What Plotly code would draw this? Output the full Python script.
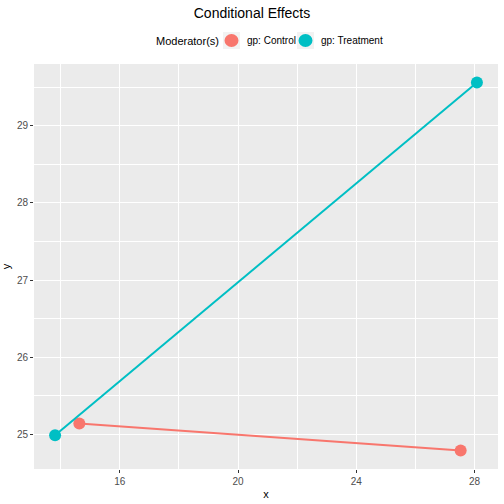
import plotly.graph_objects as go

groups = ["gp: Control", "gp: Treatment"]
colors = ["#F8766D", "#00BFC4"]
control_x = [14.63, 27.53]
control_y = [25.14, 24.79]
treat_x = [13.81, 28.08]
treat_y = [24.99, 29.56]
x_ticks = [16, 20, 24, 28]
y_ticks = [25, 26, 27, 28, 29]

W = H = 504
ML, MR, MT, MB = 34, 6, 64, 35
PW, PH = W - ML - MR, H - MT - MB

def px_x(p):
    return (p - ML) / PW

def px_y(p):
    return (H - MB - p) / PH

fig = go.Figure()
for name, xs, ys, c in [(groups[0], control_x, control_y, colors[0]),
                        (groups[1], treat_x, treat_y, colors[1])]:
    fig.add_trace(go.Scatter(x=xs, y=ys, mode="lines+markers", name=name,
                             line=dict(color=c, width=2),
                             marker=dict(color=c, size=12), showlegend=False))

xmin = min(control_x + treat_x); xmax = max(control_x + treat_x)
ymin = min(control_y + treat_y); ymax = max(control_y + treat_y)
xe = (xmax - xmin) * 0.05; ye = (ymax - ymin) * 0.05

axis_common = dict(showgrid=True, gridcolor="white", gridwidth=1.1,
                   zeroline=False, showline=False, ticks="outside",
                   ticklen=3, tickcolor="#333333", tickwidth=1,
                   tickfont=dict(family="Liberation Sans, Arial", size=10, color="#4D4D4D"))

# manual legend (ggplot style)
shapes = []
annotations = []
ly = 40.5
annotations.append(dict(text="Moderator(s)", x=px_x(154), y=px_y(ly), xref="paper", yref="paper",
                        xanchor="left", yanchor="middle", showarrow=False,
                        font=dict(size=11, color="black")))
key_x = [223, 297]
label_x = [245, 319]
for i, (name, c) in enumerate(zip(groups, colors)):
    k = key_x[i]
    shapes.append(dict(type="rect", xref="paper", yref="paper",
                       x0=px_x(k), x1=px_x(k + 17), y0=px_y(ly + 8.5), y1=px_y(ly - 8.5),
                       fillcolor="#F2F2F2", line=dict(width=0), layer="above"))
    cx = k + 8.5
    shapes.append(dict(type="circle", xref="paper", yref="paper",
                       x0=px_x(cx - 7), x1=px_x(cx + 7), y0=px_y(ly + 6.5), y1=px_y(ly - 6.5),
                       fillcolor=c, line=dict(width=0), layer="above"))
    annotations.append(dict(text=name, x=px_x(label_x[i]), y=px_y(ly), xref="paper", yref="paper",
                            xanchor="left", yanchor="middle", showarrow=False,
                            font=dict(size=10, color="black")))

fig.update_layout(
    width=W, height=H,
    margin=dict(l=ML, r=MR, t=MT, b=MB),
    paper_bgcolor="white", plot_bgcolor="#EBEBEB",
    font=dict(family="Liberation Sans, Arial", color="black"),
    title=dict(text="Conditional Effects", x=0.5, xanchor="center",
               y=1 - 13 / 504, yanchor="middle",
               font=dict(size=14, color="black")),
    shapes=shapes, annotations=annotations,
    showlegend=False,
)
fig.update_xaxes(range=[xmin - xe, xmax + xe], tickvals=x_ticks,
                 title=dict(text="x", font=dict(size=11, color="black"), standoff=4),
                 minor=dict(tickvals=[14, 18, 22, 26], showgrid=True,
                            gridcolor="white", gridwidth=0.5, ticks=""),
                 **axis_common)
fig.update_yaxes(range=[ymin - ye, ymax + ye], tickvals=y_ticks,
                 title=dict(text="y", font=dict(size=11, color="black"), standoff=4),
                 minor=dict(tickvals=[24.5, 25.5, 26.5, 27.5, 28.5, 29.5], showgrid=True,
                            gridcolor="white", gridwidth=0.5, ticks=""),
                 **axis_common)

fig.write_html("out.html")
